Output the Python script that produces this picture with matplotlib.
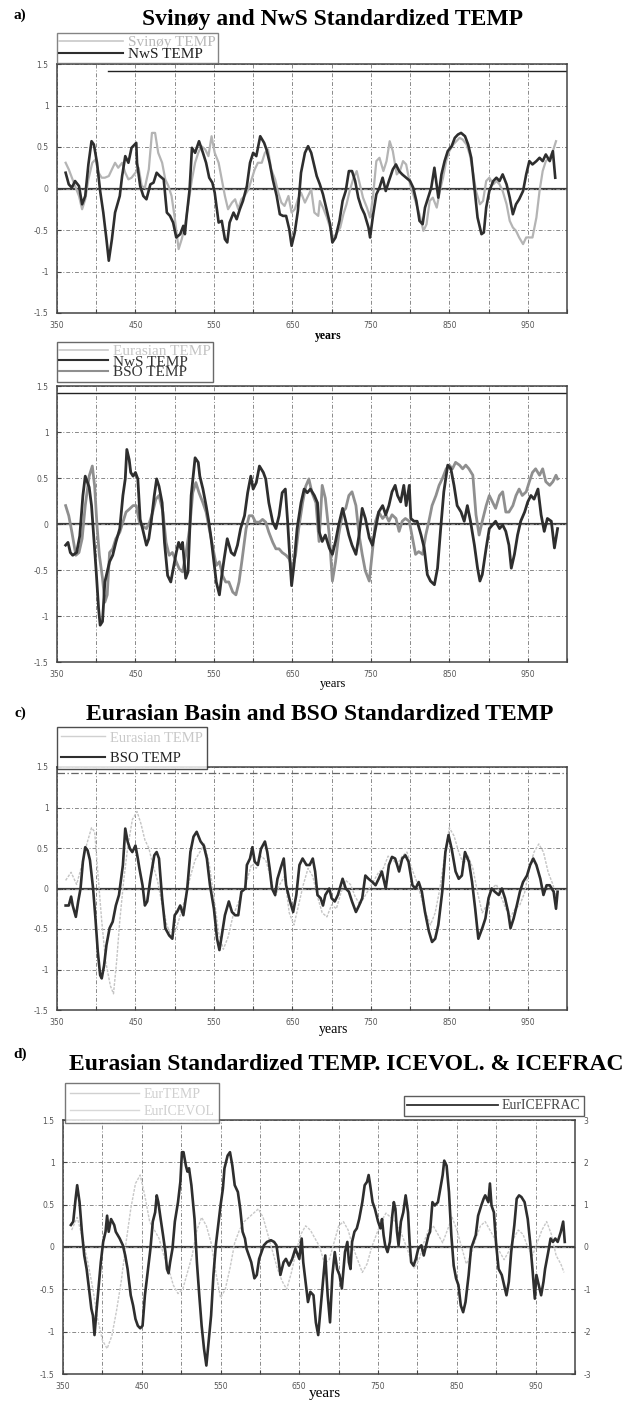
# Standardized TEMP / ICEVOL / ICEFRAC time series, panels a) to d)
import numpy as np
import matplotlib
matplotlib.use("Agg")
import matplotlib.pyplot as plt
from matplotlib.lines import Line2D

plt.rcParams['axes.unicode_minus'] = False

# ---------------- data (year, standardized value) ----------------
# a) Svinoy and NwS
a_nws = [(361,0.19),(365,0.05),(369,0.01),(373,0.09),(378,0.03),(382,-0.19),(386,-0.09),(390,0.29),(394,0.57),(397,0.53),
         (401,0.31),(405,-0.03),(409,-0.29),(413,-0.61),(416,-0.87),(420,-0.61),(424,-0.29),(430,-0.09),(433,0.15),(437,0.39),
         (441,0.31),(445,0.49),(451,0.55),(452,0.31),(456,0.03),(460,-0.09),(464,-0.13),(469,0.05),(473,0.07),(477,0.19),
         (481,0.15),(486,0.11),(490,-0.29),(494,-0.33),(498,-0.41),(502,-0.59),(507,-0.55),(511,-0.45),(513,-0.55),(515,-0.35),
         (519,-0.01),(522,0.49),(526,0.43),(531,0.57),(536,0.43),(540,0.31),(544,0.13),(548,0.07),(551,-0.05),(556,-0.41),
         (560,-0.39),(564,-0.61),(567,-0.65),(570,-0.41),(575,-0.29),(579,-0.37),(583,-0.25),(587,-0.15),(592,0.03),(596,0.31),
         (600,0.43),(604,0.39),(609,0.63),(614,0.55),(617,0.47),(621,0.31),(625,0.11),(630,-0.09),(634,-0.31),(638,-0.33),
         (642,-0.33),(646,-0.49),(649,-0.69),(653,-0.53),(657,-0.27),(661,0.19),(666,0.43),(670,0.51),(674,0.43),(678,0.27),
         (681,0.15),(685,0.05),(689,-0.07),(694,-0.27),(698,-0.43),(701,-0.65),(705,-0.59),(710,-0.39),(714,-0.15),(718,-0.03),
         (722,0.21),(726,0.21),(730,0.09),(734,-0.11),(738,-0.23),(742,-0.31),(747,-0.47),(749,-0.59),(753,-0.31),(757,-0.07),
         (761,0.01),(765,0.13),(769,-0.03),(773,0.09),(778,0.23),(782,0.29),(786,0.21),(790,0.17),(795,0.13),(800,0.09),
         (804,0.01),(808,-0.15),(812,-0.39),(816,-0.43),(819,-0.23),(823,-0.11),(827,0.01),(831,0.25),(836,-0.11),(840,0.17),
         (844,0.33),(848,0.45),(853,0.51),(857,0.61),(861,0.65),(865,0.67),(870,0.63),(874,0.53),(878,0.37),(882,0.01),
         (886,-0.35),(891,-0.55),(894,-0.53),(897,-0.23),(901,-0.03),(906,0.09),(910,0.13),(914,0.09),(918,0.17),(923,0.05),
         (927,-0.11),(931,-0.31),(935,-0.19),(939,-0.13),(944,-0.03),(948,0.17),(952,0.33),(956,0.29),(961,0.33),(965,0.37),
         (969,0.33),(973,0.41),(978,0.33),(982,0.45),(985,0.13)]

a_svinoy = [(361,0.31),(365,0.23),(369,0.13),(373,0.03),(378,-0.09),(382,-0.25),(386,-0.13),(390,0.11),(395,0.31),(399,0.35),
            (403,0.19),(407,0.13),(411,0.13),(416,0.15),(420,0.23),(424,0.31),(428,0.25),(433,0.31),(437,0.19),(441,0.11),
            (445,0.13),(450,0.19),(454,0.25),(458,0.03),(462,0.01),(467,0.23),(471,0.67),(475,0.67),(479,0.43),(484,0.31),
            (488,0.11),(492,0.03),(496,-0.09),(500,-0.35),(505,-0.73),(509,-0.61),(513,-0.45),(517,-0.21),(522,0.11),(526,0.31),
            (530,0.43),(534,0.51),(539,0.47),(543,0.39),(547,0.63),(551,0.43),(556,0.31),(560,0.11),(564,-0.09),(568,-0.25),
            (573,-0.17),(577,-0.13),(581,-0.25),(585,-0.13),(589,-0.09),(594,-0.01),(598,0.11),(602,0.23),(606,0.31),(611,0.31),
            (615,0.43),(619,0.47),(623,0.23),(628,0.11),(632,-0.05),(636,-0.17),(640,-0.21),(645,-0.09),(649,-0.29),(653,-0.25),
            (657,-0.13),(661,-0.05),(666,-0.17),(670,-0.09),(674,-0.01),(678,-0.29),(683,-0.33),(685,-0.15),(689,-0.23),(694,-0.35),
            (698,-0.47),(702,-0.59),(706,-0.55),(711,-0.47),(715,-0.31),(719,-0.19),(723,-0.03),(728,0.13),(732,0.21),(736,0.05),
            (740,-0.11),(745,-0.23),(749,-0.35),(753,-0.07),(757,0.33),(761,0.37),(766,0.21),(770,0.33),(774,0.57),(778,0.45),
            (783,0.17),(787,0.21),(791,0.33),(795,0.29),(800,0.05),(804,-0.07),(808,-0.19),(812,-0.31),(817,-0.51),(821,-0.43),
            (825,-0.15),(829,-0.11),(834,-0.23),(838,-0.03),(842,0.13),(846,0.33),(850,0.45),(855,0.53),(859,0.57),(863,0.61),
            (867,0.59),(872,0.53),(876,0.41),(880,0.21),(884,-0.03),(889,-0.19),(893,-0.15),(897,0.09),(901,0.13),(906,0.05),
            (910,0.09),(914,0.05),(918,-0.03),(923,-0.19),(927,-0.39),(931,-0.47),(935,-0.51),(939,-0.59),(944,-0.67),(948,-0.59),
            (952,-0.59),(956,-0.59),(961,-0.35),(965,-0.03),(969,0.21),(973,0.33),(978,0.37),(982,0.45),(986,0.57)]

# b) NwS and BSO
b_nws = [(361,-0.23),(364,-0.2),(367,-0.31),(370,-0.34),(375,-0.31),(379,-0.13),(383,0.31),(386,0.52),(391,0.40),(394,0.2),
         (397,-0.16),(400,-0.52),(403,-0.92),(405,-1.1),(408,-1.06),(411,-0.63),(414,-0.52),(417,-0.41),(421,-0.34),(425,-0.2),
         (430,-0.05),(434,0.31),(437,0.49),(439,0.81),(442,0.7),(444,0.56),(447,0.52),(450,0.56),(453,0.49),(456,0.05),
         (459,-0.05),(464,-0.23),(467,-0.16),(470,0.02),(474,0.31),(477,0.49),(480,0.41),(484,0.23),(487,-0.2),(491,-0.56),
         (495,-0.63),(498,-0.49),(502,-0.31),(505,-0.2),(508,-0.27),(510,-0.2),(514,-0.59),(517,-0.52),(521,0.31),(524,0.56),
         (526,0.72),(530,0.67),(532,0.52),(536,0.38),(540,0.2),(543,0.05),(546,-0.13),(549,-0.34),(553,-0.63),(557,-0.77),
         (560,-0.56),(563,-0.38),(567,-0.16),(572,-0.31),(576,-0.34),(580,-0.23),(584,-0.05),(589,0.09),(593,0.34),(597,0.52),
         (600,0.38),(604,0.45),(608,0.63),(613,0.56),(616,0.49),(620,0.23),(625,0.02),(629,-0.05),(633,0.09),(637,0.34),
         (641,0.38),(644,0.02),(647,-0.41),(649,-0.67),(652,-0.45),(656,-0.05),(661,0.23),(665,0.38),(669,0.34),(673,0.38),
         (678,0.31),(682,0.23),(684,-0.08),(688,-0.19),(692,-0.12),(697,-0.26),(701,-0.33),(705,-0.19),(709,-0.01),(714,0.17),
         (718,0.03),(722,-0.12),(726,-0.23),(731,-0.33),(735,-0.12),(739,0.17),(743,0.06),(748,-0.15),(752,-0.23),(756,-0.05),
         (760,0.13),(765,0.2),(769,0.1),(773,0.2),(777,0.35),(781,0.42),(784,0.31),(788,0.24),(792,0.42),(795,0.2),
         (799,0.42),(801,0.06),(805,0.03),(809,0.03),(814,-0.12),(818,-0.26),(822,-0.55),(826,-0.62),(831,-0.66),(835,-0.48),
         (839,-0.05),(843,0.35),(848,0.64),(852,0.6),(856,0.42),(860,0.2),(865,0.13),(869,0.03),(873,0.2),(877,0.03),
         (882,-0.23),(886,-0.48),(889,-0.62),(892,-0.55),(897,-0.26),(901,-0.05),(905,-0.01),(909,0.03),(914,-0.05),(918,-0.01),
         (922,-0.08),(926,-0.23),(929,-0.48),(933,-0.33),(937,-0.12),(941,0.03),(946,0.13),(950,0.24),(954,0.31),(958,0.27),
         (963,0.38),(967,0.1),(971,-0.08),(975,0.06),(980,0.03),(984,-0.26),(988,-0.05)]

b_bso = [(361,0.2),(365,0.09),(369,-0.09),(374,-0.34),(378,-0.31),(382,-0.16),(386,0.2),(391,0.52),(395,0.63),(398,0.41),
         (401,-0.02),(404,-0.34),(408,-0.59),(411,-0.85),(414,-0.77),(417,-0.31),(421,-0.27),(425,-0.16),(430,-0.09),(434,0.02),
         (438,0.13),(442,0.16),(447,0.2),(451,0.2),(455,0.02),(459,-0.02),(464,-0.05),(468,0.02),(472,0.13),(476,0.27),
         (480,0.31),(485,0.13),(489,-0.2),(493,-0.34),(497,-0.31),(502,-0.41),(506,-0.49),(510,-0.52),(514,-0.34),(519,-0.05),
         (523,0.34),(527,0.45),(531,0.34),(536,0.23),(540,0.13),(544,-0.05),(548,-0.23),(553,-0.45),(557,-0.41),(561,-0.56),
         (565,-0.63),(569,-0.63),(574,-0.74),(578,-0.77),(582,-0.63),(586,-0.38),(591,-0.05),(595,0.09),(599,0.09),(603,0.02),
         (608,0.02),(612,0.05),(616,0.02),(620,-0.09),(625,-0.2),(629,-0.27),(633,-0.27),(637,-0.31),(642,-0.34),(646,-0.38),
         (650,-0.49),(654,-0.34),(658,-0.05),(663,0.23),(667,0.41),(671,0.49),(675,0.34),(680,0.23),(684,-0.19),(688,0.42),
         (692,0.28),(697,-0.12),(701,-0.62),(705,-0.41),(709,-0.12),(714,0.13),(718,0.17),(722,0.31),(726,0.35),(731,0.2),
         (735,-0.12),(739,-0.33),(743,-0.51),(748,-0.62),(752,-0.3),(756,0.03),(760,0.13),(765,0.06),(769,0.1),(773,0.03),
         (777,0.1),(782,0.06),(786,-0.08),(790,0.03),(794,0.06),(799,0.03),(803,-0.15),(807,-0.33),(811,-0.3),(816,-0.33),
         (820,-0.12),(824,0.03),(828,0.2),(833,0.31),(837,0.42),(841,0.49),(846,0.6),(850,0.64),(854,0.6),(858,0.67),
         (863,0.64),(867,0.6),(871,0.64),(875,0.6),(880,0.53),(884,0.1),(888,-0.12),(892,0.03),(897,0.2),(901,0.31),
         (905,0.24),(909,0.17),(914,0.31),(918,0.35),(922,0.13),(926,0.13),(931,0.2),(935,0.31),(939,0.38),(943,0.31),
         (948,0.35),(952,0.46),(956,0.56),(960,0.6),(965,0.53),(969,0.6),(973,0.46),(978,0.42),(982,0.46),(986,0.53),(988,0.49)]

# c) Eurasian Basin and BSO
c_bso = [(361,-0.21),(365,-0.21),(368,-0.1),(370,-0.21),(374,-0.35),(377,-0.16),(380,0.0),(383,0.33),(386,0.51),(389,0.47),
         (392,0.35),(396,0.0),(399,-0.37),(402,-0.78),(405,-1.07),(407,-1.11),(410,-0.95),(413,-0.7),(417,-0.49),(421,-0.41),
         (425,-0.21),(429,-0.08),(434,0.29),(437,0.74),(440,0.58),(443,0.49),(446,0.45),(450,0.53),(453,0.37),(455,0.25),
         (459,0.04),(462,-0.21),(465,-0.16),(469,0.12),(474,0.41),(477,0.45),(480,0.37),(484,-0.12),(488,-0.49),(493,-0.58),
         (497,-0.62),(500,-0.33),(503,-0.29),(507,-0.21),(511,-0.33),(516,0.0),(520,0.45),(524,0.64),(528,0.7),(533,0.58),
         (537,0.53),(541,0.37),(545,0.04),(550,-0.25),(554,-0.62),(557,-0.76),(560,-0.58),(564,-0.33),(569,-0.16),(573,-0.29),
         (577,-0.33),(581,-0.33),(585,-0.04),(590,0.0),(592,0.29),(596,0.37),(599,0.51),(602,0.33),(606,0.29),(610,0.49),
         (615,0.58),(618,0.45),(621,0.25),(624,0.0),(628,-0.08),(631,0.12),(635,0.25),(639,0.37),(642,0.04),(647,-0.16),
         (651,-0.29),(655,-0.08),(659,0.29),(663,0.37),(668,0.29),(672,0.29),(676,0.37),(679,0.21),(682,-0.08),(686,-0.12),
         (689,-0.21),(692,-0.08),(697,0.0),(700,-0.12),(704,-0.16),(708,-0.08),(714,0.12),(718,0.0),(722,-0.04),(726,-0.16),
         (731,-0.29),(735,-0.21),(739,-0.12),(743,0.16),(747,0.12),(752,0.08),(756,0.04),(760,0.12),(764,0.21),(769,0.0),
         (773,0.29),(777,0.39),(781,0.37),(786,0.21),(790,0.37),(794,0.41),(798,0.33),(803,0.04),(807,0.0),(811,0.08),
         (815,-0.04),(819,-0.29),(824,-0.53),(828,-0.66),(832,-0.62),(836,-0.45),(841,-0.04),(845,0.45),(849,0.66),(853,0.49),
         (858,0.21),(862,0.12),(866,0.16),(870,0.45),(875,0.33),(879,0.08),(883,-0.25),(887,-0.62),(892,-0.49),(896,-0.37),
         (900,-0.12),(904,0.0),(908,-0.04),(913,-0.08),(917,0.0),(921,-0.12),(925,-0.29),(928,-0.49),(932,-0.37),(936,-0.21),
         (940,-0.04),(944,0.08),(949,0.16),(953,0.29),(957,0.37),(961,0.29),(966,0.12),(970,-0.08),(974,0.04),(978,0.04),
         (983,-0.04),(986,-0.25),(988,-0.04)]

c_eurasian = [(361,0.1),(368,0.2),(375,0.05),(382,0.3),(388,0.55),(394,0.75),(398,0.7),(402,0.2),(407,-0.4),(412,-0.9),
              (418,-1.2),(422,-1.3),(426,-0.9),(430,-0.4),(435,0.1),(440,0.5),(446,0.85),(452,0.95),(457,0.8),(462,0.6),
              (467,0.5),(472,0.3),(478,0.1),(484,-0.2),(490,-0.45),(496,-0.6),(502,-0.5),(508,-0.3),(514,-0.1),(520,0.15),
              (526,0.35),(532,0.45),(538,0.55),(544,0.3),(550,-0.1),(556,-0.55),(562,-0.75),(568,-0.6),(574,-0.35),(580,-0.2),
              (586,-0.05),(592,0.1),(598,0.3),(604,0.25),(610,0.4),(616,0.35),(622,0.15),(628,-0.1),(634,0.05),(640,0.15),
              (646,-0.3),(652,-0.45),(658,-0.2),(664,0.05),(670,0.25),(676,0.15),(682,-0.1),(688,-0.3),(694,-0.35),(700,-0.2),
              (706,-0.25),(712,-0.05),(718,0.1),(724,0.05),(730,-0.1),(736,-0.2),(742,-0.1),(748,0.0),(754,0.1),(760,0.2),
              (766,0.25),(772,0.4),(778,0.35),(784,0.3),(790,0.4),(796,0.45),(802,0.25),(808,0.1),(814,-0.1),(820,-0.3),
              (826,-0.45),(832,-0.3),(838,0.0),(844,0.4),(850,0.75),(856,0.65),(862,0.45),(868,0.3),(874,0.4),(880,0.25),
              (886,-0.05),(892,-0.3),(898,-0.2),(904,0.0),(910,0.05),(916,-0.1),(922,-0.25),(928,-0.35),(934,-0.25),(940,-0.2),
              (946,-0.05),(952,0.25),(958,0.45),(964,0.55),(970,0.45),(976,0.2),(982,0.05),(986,-0.1)]

# d) Eurasian TEMP (left axis) and ICEFRAC (right axis)
d_temp = [(361,0.2),(368,0.35),(375,0.1),(382,-0.2),(388,-0.5),(394,-0.85),(400,-1.1),(406,-1.2),(412,-1.05),(418,-0.75),
          (424,-0.4),(430,0.05),(436,0.45),(442,0.75),(448,0.85),(454,0.6),(460,0.3),(466,0.2),(472,0.1),(478,-0.1),
          (484,-0.25),(490,-0.45),(496,-0.55),(502,-0.5),(508,-0.3),(514,-0.1),(520,0.2),(526,0.35),(532,0.25),(538,0.05),
          (544,-0.3),(550,-0.6),(556,-0.5),(562,-0.25),(568,0.05),(574,0.2),(580,0.3),(586,0.35),(592,0.4),(598,0.45),
          (604,0.35),(610,0.15),(616,-0.05),(622,-0.25),(628,-0.4),(634,-0.5),(640,-0.3),(646,-0.05),(652,0.15),(658,0.25),
          (664,0.2),(670,0.1),(676,0.0),(682,-0.2),(688,-0.15),(694,0.05),(700,0.25),(706,0.3),(712,0.2),(718,0.0),
          (724,-0.15),(730,-0.3),(736,-0.2),(742,0.0),(748,0.15),(754,0.3),(760,0.4),(766,0.35),(772,0.3),(778,0.2),
          (784,0.05),(790,-0.1),(796,-0.25),(802,-0.15),(808,0.05),(814,0.2),(820,0.25),(826,0.15),(832,0.05),(838,0.2),
          (844,0.35),(850,0.2),(856,0.0),(862,-0.2),(868,-0.1),(874,0.1),(880,0.25),(886,0.3),(892,0.2),(898,0.1),
          (904,-0.05),(910,-0.15),(916,-0.05),(922,0.1),(928,0.2),(934,0.15),(940,0.0),(946,-0.1),(952,0.05),(958,0.2),
          (964,0.3),(970,0.15),(976,-0.1),(982,-0.2),(986,-0.3)]

d_icefrac = [(360,0.52),(363,0.6),(366,1.14),(368,1.46),(371,1.06),(374,0.36),(377,-0.2),(380,-0.52),(382,-0.82),(384,-1.14),
             (386,-1.46),(388,-1.62),(390,-2.08),(392,-1.62),(395,-0.98),(398,-0.36),(401,0.12),(404,0.36),(406,0.74),(408,0.36),
             (411,0.66),(415,0.52),(417,0.36),(422,0.2),(426,0.04),(429,-0.2),(432,-0.52),(436,-1.14),(439,-1.38),(442,-1.7),
             (445,-1.86),(448,-1.92),(451,-1.86),(454,-1.14),(458,-0.52),(461,-0.04),(464,0.6),(467,0.82),(469,1.22),(471,1.06),
             (474,0.66),(477,0.28),(480,-0.12),(482,-0.52),(484,-0.62),(486,-0.36),(489,-0.04),(492,0.6),(496,1.06),(499,1.54),
             (501,2.24),(503,2.24),(506,1.92),(508,1.78),(510,1.86),(513,1.46),(517,0.66),(520,-0.36),(523,-1.14),(526,-1.86),
             (529,-2.4),(532,-2.8),(534,-2.4),(538,-1.62),(541,-0.66),(544,0.04),(547,0.52),(550,0.98),(553,1.38),(555,1.86),
             (559,2.16),(562,2.24),(565,1.92),(568,1.46),(572,1.3),(575,0.9),(578,0.36),(581,0.2),(583,-0.04),(586,-0.2),
             (589,-0.36),(593,-0.74),(596,-0.66),(599,-0.28),(602,-0.12),(605,0.04),(609,0.12),(614,0.16),(618,0.12),(621,0.04),
             (624,-0.36),(626,-0.66),(630,-0.36),(633,-0.28),(637,-0.44),(641,-0.28),(645,-0.04),(650,-0.28),(653,0.2),(655,-0.36),
             (658,-0.82),(661,-1.3),(664,-1.06),(668,-1.14),(671,-1.78),(674,-2.08),(677,-1.46),(681,-0.66),(683,-0.2),(686,-1.14),
             (689,-1.78),(692,-0.66),(695,-0.12),(698,-0.52),(701,-0.66),(704,-0.98),(708,-0.12),(711,0.12),(713,-0.36),(715,-0.52),
             (717,0.12),(720,0.36),(723,0.44),(726,0.66),(730,1.06),(733,1.46),(736,1.54),(738,1.7),(740,1.46),(743,1.06),
             (746,0.9),(750,0.6),(753,0.44),(755,0.66),(757,0.28),(759,0.04),(762,-0.12),(765,0.12),(768,0.74),(770,1.06),
             (772,0.9),(774,0.36),(776,0.04),(779,0.6),(782,0.82),(785,1.22),(788,0.82),(790,0.12),(792,-0.36),(795,-0.44),
             (798,-0.28),(801,-0.04),(805,0.04),(808,-0.2),(811,0.04),(814,0.28),(816,0.36),(819,1.06),(822,0.98),(826,1.06),
             (829,1.38),(832,1.7),(834,2.04),(837,1.92),(840,1.3),(843,0.28),(846,-0.44),(849,-0.74),(852,-0.9),(855,-1.38),
             (858,-1.54),(861,-1.3),(865,-0.66),(868,-0.04),(871,0.12),(874,0.28),(877,0.74),(881,0.98),(884,1.14),(886,1.22),
             (890,1.06),(892,1.5),(894,0.98),(897,0.82),(900,0.04),(903,-0.52),(907,-0.66),(910,-0.9),(913,-1.14),(916,-0.82),
             (919,-0.12),(923,0.52),(926,1.14),(929,1.22),(932,1.18),(936,1.06),(940,0.66),(943,0.12),(946,-0.52),(949,-1.22),
             (951,-0.66),(954,-0.9),(957,-1.14),(960,-0.82),(962,-0.52),(966,-0.12),(969,0.2),(972,0.12),(975,0.2),(978,0.12),
             (982,0.36),(985,0.6),(987,0.12)]

xticks = [350, 400, 450, 500, 550, 600, 650, 700, 750, 800, 850, 900, 950, 1000]
xlabels = ['350', '', '450', '', '550', '', '650', '', '750', '', '850', '', '950', '']
yticks = [-1.5, -1, -0.5, 0, 0.5, 1, 1.5]
ylabels = ['-1.5', '-1', '-0.5', '0', '0.5', '1', '1.5']
rticks = [-3, -2, -1, 0, 1, 2, 3]

SERIF = 'Liberation Serif'
DARK = '#2e2e2e'
W, H = 634, 1403


def box(l, t, r, b):
    # pixel box -> figure fraction rect
    return [l / W, 1 - b / H, (r - l) / W, (b - t) / H]


def fx(x):
    return x / W


def fy(y):
    return 1 - y / H


def style(ax):
    ax.set_xlim(350, 1000)
    ax.set_ylim(-1.5, 1.5)
    ax.set_xticks(xticks)
    ax.set_xticklabels(xlabels)
    ax.set_yticks(yticks)
    ax.set_yticklabels(ylabels)
    ax.grid(True, color='#8a8a8a', linestyle=(0, (4, 2, 1, 2)), linewidth=0.7)
    ax.tick_params(direction='in', length=3, labelsize=5.5, labelcolor='#555', color='#444', pad=6)
    for s in ax.spines.values():
        s.set_color('#444')
        s.set_linewidth(1.1)
    ax.axhline(0, color='#3a3a3a', lw=1.6, zorder=1)


def plot_series(ax, pairs, **kw):
    arr = np.array(pairs)
    ax.plot(arr[:, 0], arr[:, 1], **kw)


def make_legend(handles, labels, x, y, size, colors, **kw):
    opts = dict(loc='upper left', bbox_to_anchor=(fx(x), fy(y)), prop={'family': SERIF, 'size': size},
                frameon=True, fancybox=False, borderaxespad=0, handletextpad=0.3)
    opts.update(kw)
    lg = fig.legend(handles, labels, **opts)
    lg.get_frame().set_linewidth(1.0)
    for t, c in zip(lg.get_texts(), colors):
        t.set_color(c)
    return lg


fig = plt.figure(figsize=(W / 100, H / 100), dpi=100)

# ---------------- a) ----------------
ax_a = fig.add_axes(box(57, 64, 567, 313))
style(ax_a)
plot_series(ax_a, a_svinoy, color='#b4b4b4', lw=1.6, zorder=2)
plot_series(ax_a, a_nws, color=DARK, lw=1.9, zorder=3)
ax_a.axhline(1.42, xmin=0.1, color='#222', lw=1.0)
fig.text(fx(20), fy(15), 'a)', fontsize=11, fontweight='bold', family=SERIF, ha='center', va='center')
fig.text(fx(333), fy(20), 'Svinøy and NwS Standardized TEMP', fontsize=17, fontweight='bold',
         family=SERIF, ha='center', va='center')
fig.text(fx(328), fy(336), 'years', fontsize=8.5, fontweight='bold', family=SERIF, ha='center', va='center')
make_legend([Line2D([], [], color='#c8c8c8', lw=1.2), Line2D([], [], color=DARK, lw=1.5)],
            ['Svinøy TEMP', 'NwS TEMP'], 57, 33, 11, ['#b8b8b8', '#222'], edgecolor='#666',
            borderpad=0.15, labelspacing=-0.1, handlelength=4.2)

# ---------------- b) ----------------
ax_b = fig.add_axes(box(57, 386, 567, 662))
style(ax_b)
plot_series(ax_b, b_bso, color='#8f8f8f', lw=2.0, zorder=2)
plot_series(ax_b, b_nws, color=DARK, lw=2.0, zorder=3)
ax_b.axhline(1.42, color='#222', lw=1.0)
fig.text(fx(333), fy(684), 'years', fontsize=9, family=SERIF, ha='center', va='center')
make_legend([Line2D([], [], color='#c8c8c8', lw=1.2), Line2D([], [], color=DARK, lw=1.5),
             Line2D([], [], color='#8f8f8f', lw=1.5)],
            ['Eurasian TEMP', 'NwS TEMP', 'BSO TEMP'], 57, 342, 11, ['#c4c4c4', '#333', '#333'],
            edgecolor='#444', borderpad=0.15, labelspacing=-0.2, handlelength=3.2)

# ---------------- c) ----------------
ax_c = fig.add_axes(box(57, 767, 567, 1010))
style(ax_c)
plot_series(ax_c, c_eurasian, color='#c4c4c4', lw=1.0, linestyle=(0, (2, 1)), zorder=2)
plot_series(ax_c, c_bso, color=DARK, lw=1.9, zorder=3)
ax_c.axhline(1.42, color='#666', lw=0.9, linestyle=(0, (6, 2, 1, 2)))
fig.text(fx(20), fy(713), 'c)', fontsize=11, fontweight='bold', family=SERIF, ha='center', va='center')
fig.text(fx(320), fy(714), 'Eurasian Basin and BSO Standardized TEMP', fontsize=17, fontweight='bold',
         family=SERIF, ha='center', va='center')
fig.text(fx(334), fy(1030), 'years', fontsize=10, family=SERIF, ha='center', va='center')
make_legend([Line2D([], [], color='#d0d0d0', lw=1.0), Line2D([], [], color=DARK, lw=1.5)],
            ['Eurasian TEMP', 'BSO TEMP'], 57, 727, 10.5, ['#c8c8c8', '#222'], edgecolor='#222',
            borderpad=0.3, labelspacing=0.5, handlelength=3.0)

# ---------------- d) ----------------
ax_d = fig.add_axes(box(63, 1120, 575, 1374))
style(ax_d)
plot_series(ax_d, d_temp, color='#c8c8c8', lw=1.0, linestyle=(0, (2, 1)), zorder=2)
ax_r = ax_d.twinx()
ax_r.set_ylim(-3, 3)
ax_r.set_yticks(rticks)
ax_r.tick_params(direction='in', length=3, labelsize=5.5, labelcolor='#555', color='#444', pad=6)
for s in ax_r.spines.values():
    s.set_visible(False)
plot_series(ax_r, d_icefrac, color=DARK, lw=1.9, zorder=3)
fig.text(fx(20), fy(1054), 'd)', fontsize=11, fontweight='bold', family=SERIF, ha='center', va='center')
fig.text(fx(346), fy(1065), 'Eurasian Standardized TEMP. ICEVOL. & ICEFRAC', fontsize=17, fontweight='bold',
         family=SERIF, ha='center', va='center')
fig.text(fx(325), fy(1394), 'years', fontsize=11, family=SERIF, ha='center', va='center')
make_legend([Line2D([], [], color='#d0d0d0', lw=1.0), Line2D([], [], color='#d8d8d8', lw=1.0)],
            ['EurTEMP', 'EurICEVOL'], 65, 1083, 10, ['#cfcfcf', '#cfcfcf'], edgecolor='#555',
            borderpad=0.35, labelspacing=0.3, handlelength=5.0)
make_legend([Line2D([], [], color=DARK, lw=1.3)], ['EurICEFRAC'], 404, 1096, 10, ['#444'],
            edgecolor='#333', borderpad=0.25, handlelength=6.5)

fig.savefig('out.png', dpi=100)
